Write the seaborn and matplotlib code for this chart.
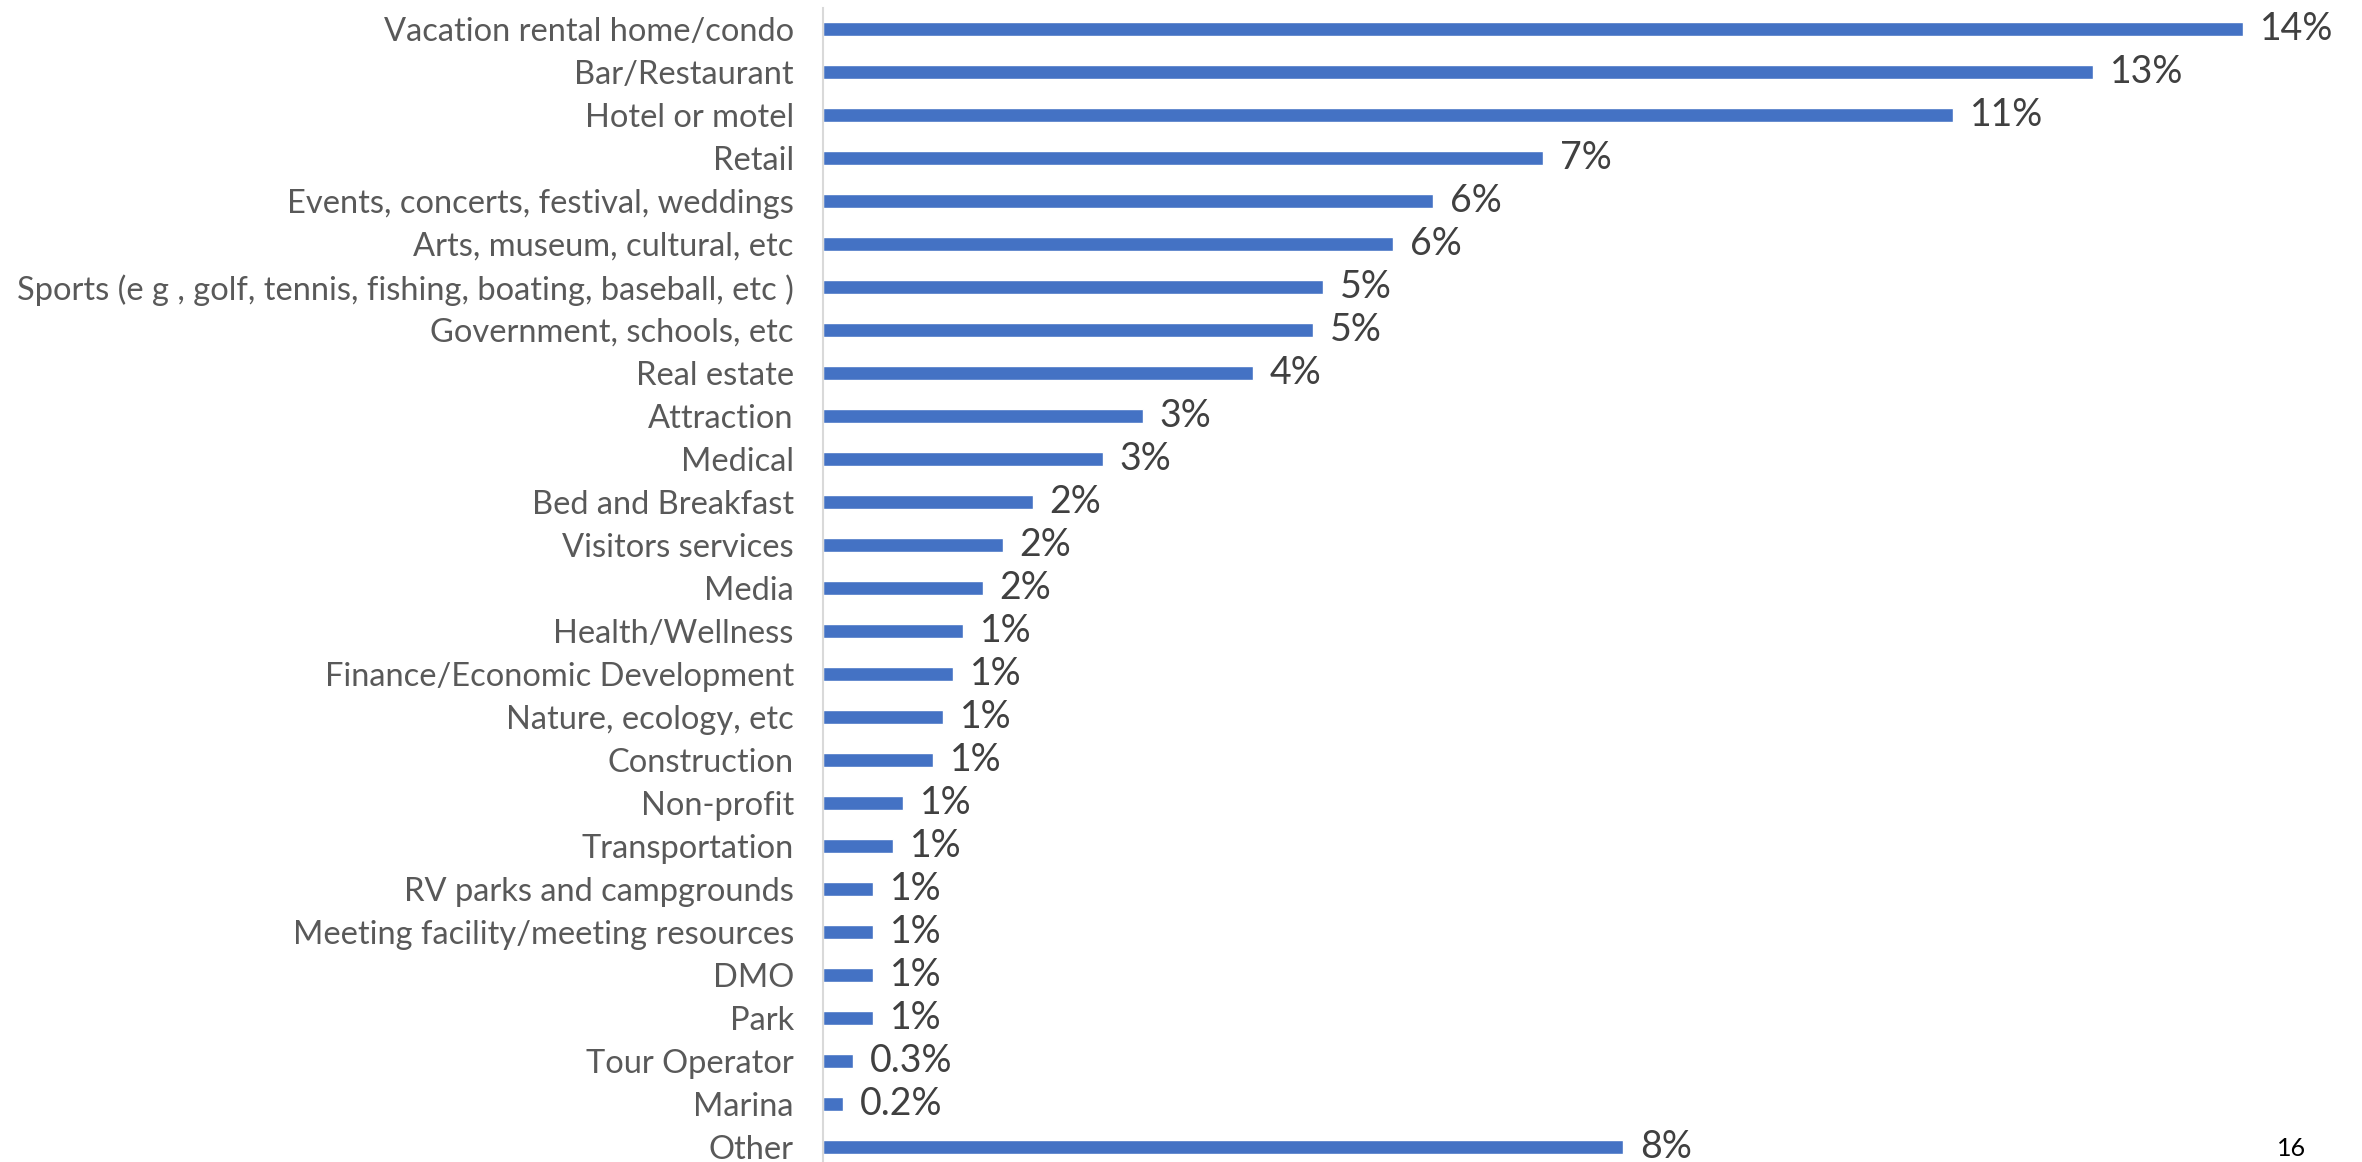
import numpy as np
import pandas as pd
import matplotlib.pyplot as plt
import seaborn as sns

# business type share of respondents
categories = [
    "Vacation rental home/condo", "Bar/Restaurant", "Hotel or motel", "Retail",
    "Events, concerts, festival, weddings", "Arts, museum, cultural, etc",
    "Sports (e g , golf, tennis, fishing, boating, baseball, etc )",
    "Government, schools, etc", "Real estate", "Attraction", "Medical",
    "Bed and Breakfast", "Visitors services", "Media", "Health/Wellness",
    "Finance/Economic Development", "Nature, ecology, etc", "Construction",
    "Non-profit", "Transportation", "RV parks and campgrounds",
    "Meeting facility/meeting resources", "DMO", "Park", "Tour Operator",
    "Marina", "Other",
]
shares = [14.2, 12.7, 11.3, 7.2, 6.1, 5.7, 5.0, 4.9, 4.3, 3.2, 2.8, 2.1, 1.8,
          1.6, 1.4, 1.3, 1.2, 1.1, 0.8, 0.7, 0.5, 0.5, 0.5, 0.5, 0.3, 0.2, 8.0]
value_labels = ["14%", "13%", "11%", "7%", "6%", "6%", "5%", "5%", "4%", "3%",
                "3%", "2%", "2%", "2%", "1%", "1%", "1%", "1%", "1%", "1%",
                "1%", "1%", "1%", "1%", "0.3%", "0.2%", "8%"]

df = pd.DataFrame({"category": categories, "share": shares})

sns.set_style("white")
plt.rcParams["font.family"] = ["Lato", "DejaVu Sans"]

fig = plt.figure(figsize=(23.62, 11.62), dpi=100)
# rows run from y=29 px to y=1147 px, axis line at x=823 px
ax = fig.add_axes([823 / 2362, (1162 - 1168.5) / 1162, (2362 - 823) / 2362,
                   (1168.5 - 7.5) / 1162])

sns.barplot(data=df, x="share", y="category", orient="h", color="#4472C4",
            saturation=1, width=0.32, ax=ax)

ax.set_xlim(0, 15.39)
ax.set_xlabel("")
ax.set_ylabel("")
ax.set_xticks([])
ax.tick_params(axis="y", length=0, pad=21, labelsize=23.5, labelcolor="#595959")

for side in ["top", "right", "bottom"]:
    ax.spines[side].set_visible(False)
ax.spines["left"].set_color("#D9D9D9")
ax.spines["left"].set_linewidth(1.5)

ax.bar_label(ax.containers[0], labels=value_labels, padding=12, fontsize=27,
             color="#404040")

fig.text(2292 / 2362, 1 - 1148 / 1162, "16", fontsize=18, color="black",
         ha="center", va="center")

fig.savefig("out.png", dpi=100)
